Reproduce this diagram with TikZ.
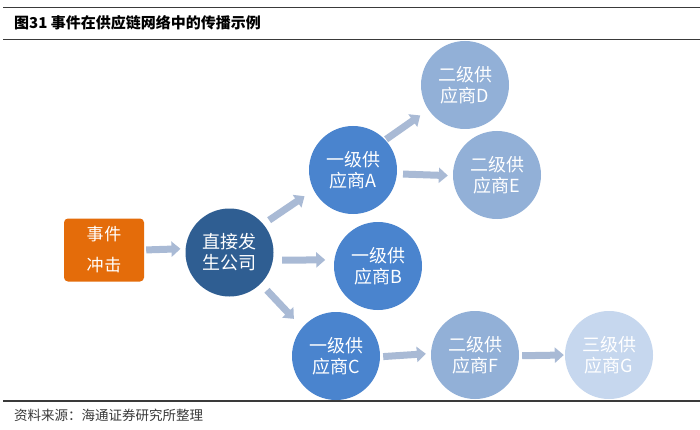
\documentclass[tikz,border=0pt]{standalone}
\usepackage{fontspec}
\setmainfont{Noto Sans CJK SC}
\usetikzlibrary{arrows.meta}
\definecolor{orng}{HTML}{E46C0A}
\definecolor{dblue}{HTML}{2F5E92}
\definecolor{mblue}{HTML}{4A84CE}
\definecolor{lblue}{HTML}{92B0D7}
\definecolor{vlblue}{HTML}{C6D7EE}
\definecolor{arrc}{HTML}{A9BAD5}
\definecolor{rulec}{HTML}{3A3A3A}
\begin{document}
\begin{tikzpicture}[x=1pt,y=-1pt,
  circ/.style={circle,minimum size=88pt,inner sep=0pt,text=white,
    font=\fontsize{18}{21}\selectfont,align=center},
  lvl0/.style={circ,fill=dblue},
  lvl1/.style={circ,fill=mblue},
  lvl2/.style={circ,fill=lblue},
  lvl3/.style={circ,fill=vlblue},
  evbox/.style={rectangle,rounded corners=4pt,fill=orng,text=white,
    minimum width=80pt,minimum height=63pt,inner sep=0pt,align=center,
    font=\fontsize{17}{20}\selectfont},
  arr/.style={draw=arrc,line width=7pt,
    -{Triangle[length=9pt,width=15pt]}},
  rulel/.style={draw=rulec,line width=1.4pt}
]
\useasboundingbox[fill=white] (0,0) rectangle (700,430);
% rules
\draw[rulel] (3,7.5) -- (700,7.5);
\draw[rulel] (3,39.5) -- (700,39.5);
\draw[rulel] (3,401) -- (700,401);
% title and footer
\node[anchor=west,inner sep=0pt,font=\fontsize{15}{18}\selectfont\bfseries] (title) at (14,23)
  {图31\ 事件在供应链网络中的传播示例};
\node[anchor=west,inner sep=0pt,text=rulec,font=\fontsize{13.5}{16}\selectfont] (src) at (14,415.5)
  {资料来源：海通证券研究所整理};
% nodes
\node[evbox] (ev) at (104,250) {事\hspace{1pt}件\\[11pt]冲\hspace{1pt}击};
\node[lvl0] (d) at (229.5,252.5) {直接发\\生公司};
\node[lvl1] (a) at (353,170) {一级供\\应商A};
\node[lvl1] (b) at (378,266) {一级供\\应商B};
\node[lvl1] (c) at (336,356) {一级供\\应商C};
\node[lvl2] (dd) at (465,85) {二级供\\应商D};
\node[lvl2] (e) at (497,175) {二级供\\应商E};
\node[lvl2] (f) at (475,355) {二级供\\应商F};
\node[lvl3] (g) at (609,355) {三级供\\应商G};
% connectors
\draw[arr,shorten <=2pt,shorten >=5pt] (ev.east) -- (d.175);
\draw[arr,shorten <=7pt,shorten >=11pt] (d.40) -- (a.207);
\draw[arr,shorten <=9pt,shorten >=9pt] (d.-10) -- (b.172);
\draw[arr,shorten <=9pt,shorten >=12pt] (d.-45) -- (c.140);
\draw[arr,shorten <=1pt,shorten >=10pt] (a.43) -- (dd.214);
\draw[arr,shorten <=6pt,shorten >=5pt] (a.-5) -- (e.181);
\draw[arr,shorten <=3pt,shorten >=5pt] (c.-1) -- (f.178);
\draw[arr,shorten <=3pt,shorten >=1pt] (f.-1) -- (g.180);
\end{tikzpicture}
\end{document}
